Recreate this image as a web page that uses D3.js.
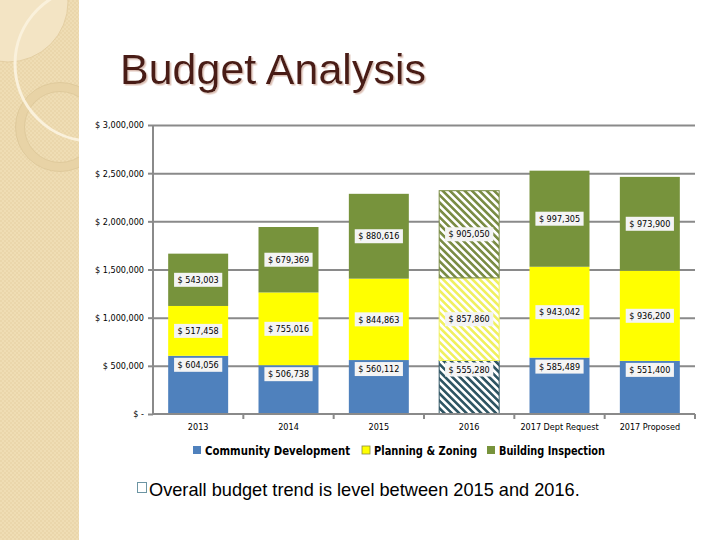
<!DOCTYPE html>
<html>
<head>
<meta charset="utf-8">
<script src="https://cdn.jsdelivr.net/npm/d3@7"></script>
<style>
html,body{margin:0;padding:0;background:#fff;}
svg{display:block;}
</style>
</head>
<body>
<svg id="chart" width="720" height="540"></svg>
<script>
// ---- data ----
const categories = ["2013", "2014", "2015", "2016", "2017 Dept Request", "2017 Proposed"];
const seriesNames = ["Community Development", "Planning & Zoning", "Building Inspection"];
const communityDevelopment = [604056, 506738, 560112, 555280, 585489, 551400];
const planningZoning = [517458, 755016, 844863, 857860, 943042, 936200];
const buildingInspection = [543003, 679369, 880616, 905050, 997305, 973900];
const yTicks = [0, 500000, 1000000, 1500000, 2000000, 2500000, 3000000];
const hatchedCategories = ["2016"];
const titleText = "Budget Analysis";
const bulletText = "Overall budget trend is level between 2015 and 2016.";

const seriesValues = [communityDevelopment, planningZoning, buildingInspection];
const colors = ["#4F81BD", "#FFFF00", "#77933C"];
const hatchColors = ["#2F5563", "#F0F060", "#7A8C45"];
const condensed = "'Liberation Sans Narrow', 'DejaVu Sans Condensed', 'Open Sans', sans-serif";

const svg = d3.select("#chart");
const defs = svg.append("defs");

// ---- left decorative strip ----
const tex = defs.append("pattern").attr("id", "tex").attr("patternUnits", "userSpaceOnUse")
  .attr("width", 4).attr("height", 4);
tex.append("rect").attr("width", 4).attr("height", 4).attr("fill", "#EFDDB4");
tex.append("rect").attr("width", 2).attr("height", 2).attr("fill", "#EAD6AB");
tex.append("rect").attr("x", 2).attr("y", 2).attr("width", 2).attr("height", 2).attr("fill", "#EAD6AB");
defs.append("clipPath").attr("id", "stripClip").append("rect").attr("width", 79).attr("height", 540);
const strip = svg.append("g").attr("clip-path", "url(#stripClip)");
strip.append("rect").attr("width", 79).attr("height", 540).attr("fill", "url(#tex)");
strip.append("circle").attr("cx", 8).attr("cy", 2).attr("r", 60)
  .attr("fill", "#F3E4C4").attr("stroke", "#E0C99A").attr("stroke-width", 0.8);
strip.append("circle").attr("cx", 60).attr("cy", 127).attr("r", 40)
  .attr("fill", "none").attr("stroke", "#E8D3A6").attr("stroke-width", 9);
strip.append("circle").attr("cx", 60).attr("cy", 127).attr("r", 44.5)
  .attr("fill", "none").attr("stroke", "#DCC698").attr("stroke-width", 0.8);
strip.append("circle").attr("cx", 60).attr("cy", 127).attr("r", 35.5)
  .attr("fill", "none").attr("stroke", "#DCC698").attr("stroke-width", 0.8);
strip.append("circle").attr("cx", 92).attr("cy", 64).attr("r", 77)
  .attr("fill", "none").attr("stroke", "#FAF1DC").attr("stroke-width", 3);

// ---- title ----
const shadow = defs.append("filter").attr("id", "tshadow").attr("x", "-5%").attr("y", "-20%")
  .attr("width", "110%").attr("height", "140%");
shadow.append("feDropShadow").attr("dx", 1.5).attr("dy", 1.5).attr("stdDeviation", 0.6)
  .attr("flood-color", "#D9B9AE").attr("flood-opacity", 0.9);
svg.append("text").attr("x", 120).attr("y", 84).text(titleText)
  .attr("font-family", "'Liberation Sans', Arial, sans-serif").attr("font-size", 43)
  .attr("fill", "#4A1C14").attr("filter", "url(#tshadow)");

// ---- scales ----
const x0 = 153, x1 = 695, yTop = 125, yBot = 414;
const x = d3.scaleBand().domain(categories).range([x0, x1]).paddingInner(0.336).paddingOuter(0.168);
const y = d3.scaleLinear().domain([0, 3000000]).range([yBot, yTop]);
const fmtMoney = v => v === 0 ? "$ -" : "$ " + d3.format(",")(v);

// gridlines
const grid = svg.append("g").attr("transform", `translate(${x0},0)`)
  .call(d3.axisLeft(y).tickValues(yTicks.filter(v => v > 0)).tickSize(-(x1 - x0)).tickFormat(""));
grid.select(".domain").remove();
grid.selectAll("line").attr("stroke", "#8A8A8A").attr("stroke-width", 2);

// hatch patterns
seriesNames.forEach((s, i) => {
  const p = defs.append("pattern").attr("id", "hatch" + i).attr("patternUnits", "userSpaceOnUse")
    .attr("width", 5.2).attr("height", 5.2).attr("patternTransform", "rotate(-45)");
  p.append("rect").attr("width", 5.2).attr("height", 5.2).attr("fill", "#FFFFFF");
  p.append("rect").attr("width", 2.6).attr("height", 5.2).attr("fill", hatchColors[i]);
});

// stacked data
const rows = categories.map((c, j) => {
  const r = { category: c };
  seriesNames.forEach((s, i) => r[s] = seriesValues[i][j]);
  return r;
});
const stacked = d3.stack().keys(seriesNames)(rows);

const barsG = svg.append("g");
stacked.forEach((layer, i) => {
  barsG.selectAll(null).data(layer).enter().append("rect")
    .attr("x", d => x(d.data.category))
    .attr("width", x.bandwidth())
    .attr("y", d => y(d[1]))
    .attr("height", d => y(d[0]) - y(d[1]))
    .attr("fill", d => hatchedCategories.includes(d.data.category) ? `url(#hatch${i})` : colors[i])
    .attr("stroke", d => hatchedCategories.includes(d.data.category) ? hatchColors[i] : "none")
    .attr("stroke-width", 1);
});

// axes
const yAxis = svg.append("g").attr("transform", `translate(${x0},0)`)
  .call(d3.axisLeft(y).tickValues(yTicks).tickSize(5).tickPadding(4).tickFormat(fmtMoney));
yAxis.select(".domain").attr("stroke", "#8A8A8A").attr("stroke-width", 2)
  .attr("d", `M0,${yTop}V${yBot}`);
yAxis.selectAll("line").attr("stroke", "#8A8A8A").attr("stroke-width", 2);
yAxis.selectAll("text").attr("font-family", condensed).attr("font-size", 9).attr("fill", "#000");

const xAxis = svg.append("g").attr("transform", `translate(0,${yBot})`)
  .call(d3.axisBottom(x).tickSize(0).tickPadding(10));
xAxis.select(".domain").attr("stroke", "#8A8A8A").attr("stroke-width", 2)
  .attr("d", `M${x0},0H${x1}`);
xAxis.selectAll("text").attr("font-family", condensed).attr("font-size", 9).attr("fill", "#000");
// category boundary tick marks
const bounds = categories.map((c, j) => x(c) - x.step() * x.paddingInner() / 2).slice(1)
  .concat([x1]);
svg.append("g").selectAll("line").data(bounds).enter().append("line")
  .attr("x1", d => d).attr("x2", d => d).attr("y1", yBot).attr("y2", yBot + 5)
  .attr("stroke", "#8A8A8A").attr("stroke-width", 2);

// data labels
const labelsG = svg.append("g");
stacked.forEach((layer, i) => {
  layer.forEach(d => {
    const cx = x(d.data.category) + x.bandwidth() / 2;
    const top = y(d[1]), bot = y(d[0]);
    const cy = i === 0 ? top + 9 : (top + bot) / 2;
    const g = labelsG.append("g");
    const t = g.append("text").attr("x", cx).attr("y", cy + 3.2).attr("text-anchor", "middle")
      .attr("font-family", condensed).attr("font-size", 9).attr("fill", "#000")
      .text(fmtMoney(d.data[layer.key]));
    const w = t.node().getComputedTextLength() + 7;
    g.insert("rect", "text").attr("x", cx - w / 2).attr("y", cy - 7).attr("width", w).attr("height", 14)
      .attr("fill", "#F4F4F4");
  });
});

// legend
const legendX = [193, 362, 487];
const legendW = [145, 103, 106];
const legendG = svg.append("g");
seriesNames.forEach((s, i) => {
  legendG.append("rect").attr("x", legendX[i]).attr("y", 446).attr("width", 8).attr("height", 8)
    .attr("fill", colors[i]).attr("stroke", i === 1 ? "#8A8A40" : "none").attr("stroke-width", 0.8);
  legendG.append("text").attr("x", legendX[i] + 12).attr("y", 455)
    .attr("font-family", condensed).attr("font-size", 13).attr("font-weight", "bold")
    .attr("textLength", legendW[i]).attr("lengthAdjust", "spacingAndGlyphs")
    .attr("fill", "#000").text(s);
});

// bullet
svg.append("rect").attr("x", 137.5).attr("y", 482.5).attr("width", 9).attr("height", 10)
  .attr("fill", "none").attr("stroke", "#6C95A3").attr("stroke-width", 1);
svg.append("text").attr("x", 149).attr("y", 496)
  .attr("font-family", "'Liberation Sans', Arial, sans-serif").attr("font-size", 18.2)
  .attr("fill", "#000").text(bulletText);
</script>
</body>
</html>
